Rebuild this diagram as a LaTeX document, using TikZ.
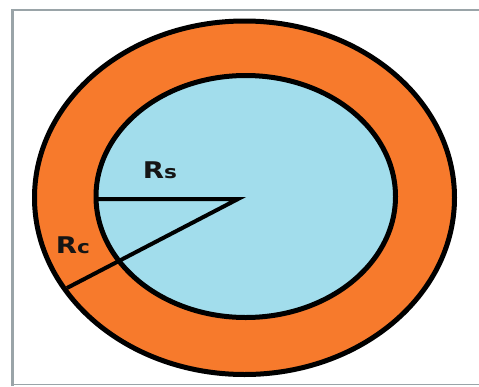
\documentclass[tikz,border=0pt]{standalone}
\usepackage{fontspec}
\setmainfont{DejaVu Sans}
\definecolor{orng}{HTML}{F77A2C}
\definecolor{lblue}{HTML}{A2DDEC}
\definecolor{frm}{HTML}{9AA4A8}
\definecolor{txt}{HTML}{151515}
\newcommand{\mylbl}[2]{\scalebox{1.2}[1]{\bfseries\fontsize{23}{23}\selectfont #1{\fontsize{18}{18}\selectfont #2}}}
\tikzset{
  ring/.style={draw=black, line width=5pt},
  radius line/.style={draw=black, line width=4pt},
  lbl/.style={text=txt, inner sep=0pt, anchor=base}
}
\begin{document}
\begin{tikzpicture}[x=1pt,y=-1pt]
\useasboundingbox (0,0) rectangle (479,386);
\fill[white] (0,0) rectangle (479,386);
\draw[frm, line width=2.5pt] (12.5,386) -- (12.5,10) -- (479,10);
\draw[frm, line width=1.2pt] (12.5,384.5) -- (479,384.5);
\path[ring, fill=orng] (244.5,197.75) ellipse [x radius=210, y radius=176.75];
\path[ring, fill=lblue] (245.75,196.5) ellipse [x radius=149.75, y radius=121];
\coordinate (c) at (238,199);
\coordinate (s) at (96,199);
\coordinate (o) at (67,288);
\draw[radius line] (s) -- (c) -- (o);
\node[lbl] (rs) at (160,178) {\mylbl{R}{s}};
\node[lbl] (rc) at (73,253) {\mylbl{R}{c}};
\end{tikzpicture}
\end{document}
